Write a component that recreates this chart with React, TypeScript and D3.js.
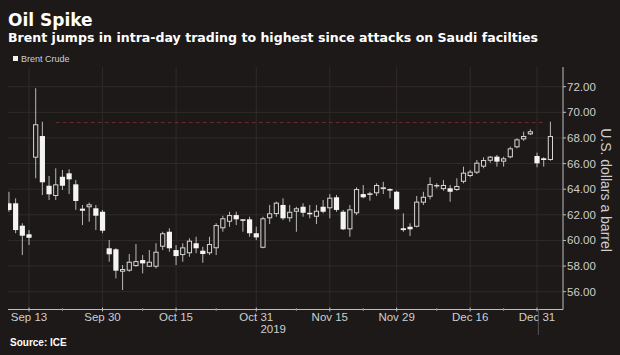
import React from "react";
import * as d3 from "d3";

const dates = [
  "Sep 10","Sep 11","Sep 12","Sep 13","Sep 16","Sep 17","Sep 18","Sep 19","Sep 20","Sep 23",
  "Sep 24","Sep 25","Sep 26","Sep 27","Sep 30","Oct 1","Oct 2","Oct 3","Oct 4","Oct 7",
  "Oct 8","Oct 9","Oct 10","Oct 11","Oct 14","Oct 15","Oct 16","Oct 17","Oct 18","Oct 21",
  "Oct 22","Oct 23","Oct 24","Oct 25","Oct 28","Oct 29","Oct 30","Oct 31","Nov 1","Nov 4",
  "Nov 5","Nov 6","Nov 7","Nov 8","Nov 11","Nov 12","Nov 13","Nov 14","Nov 15","Nov 18",
  "Nov 19","Nov 20","Nov 21","Nov 22","Nov 25","Nov 26","Nov 27","Nov 28","Nov 29","Dec 2",
  "Dec 3","Dec 4","Dec 5","Dec 6","Dec 9","Dec 10","Dec 11","Dec 12","Dec 13","Dec 16",
  "Dec 17","Dec 18","Dec 19","Dec 20","Dec 23","Dec 24","Dec 26","Dec 27","Dec 30","Dec 31",
  "Jan 2","Jan 3"
];

const opens = [62.90, 62.90, 61.15, 60.48, 66.46, 68.15, 64.27, 63.47, 64.97, 65.24,
  64.38, 62.48, 62.59, 62.51, 62.24, 59.39, 59.31, 57.56, 57.64, 58.00,
  58.47, 57.95, 57.95, 59.51, 60.68, 59.25, 58.86, 59.00, 59.78, 59.20,
  59.00, 59.39, 60.95, 61.46, 61.98, 61.65, 61.65, 60.56, 59.43, 61.73,
  62.06, 62.77, 61.73, 62.24, 62.63, 62.16, 61.85, 62.63, 62.51, 63.37,
  62.24, 60.87, 62.12, 63.62, 63.55, 63.68, 64.01, 64.01, 63.80, 60.95,
  61.07, 61.07, 62.95, 63.41, 64.25, 64.01, 64.07, 63.94, 64.58, 65.03,
  65.29, 65.76, 66.22, 66.54, 66.15, 66.49, 67.27, 67.89, 68.28, 66.59,
  66.41, 66.28];

const highs = [63.80, 63.29, 61.34, 60.81, 71.88, 69.27, 65.03, 65.63, 65.50, 65.55,
  64.72, 62.77, 62.95, 62.77, 62.38, 60.03, 59.39, 58.08, 58.94, 59.72,
  58.86, 59.25, 59.78, 60.68, 60.95, 59.64, 59.78, 60.17, 60.29, 59.51,
  60.29, 61.34, 61.93, 62.24, 62.24, 61.67, 61.85, 61.07, 61.85, 62.77,
  63.03, 63.29, 62.77, 62.63, 62.90, 62.77, 62.77, 63.16, 63.62, 63.55,
  62.38, 62.77, 64.15, 64.33, 63.80, 64.46, 64.58, 64.07, 63.88, 62.12,
  61.34, 63.47, 63.80, 64.93, 64.46, 64.72, 64.33, 64.85, 65.76, 65.50,
  66.28, 66.49, 66.59, 66.67, 66.54, 67.32, 67.97, 68.49, 68.67, 66.85,
  66.49, 69.27];

const lows = [62.24, 60.56, 58.86, 59.64, 64.85, 63.55, 63.16, 63.16, 63.94, 63.62,
  62.38, 61.20, 61.46, 60.81, 60.56, 58.34, 57.04, 56.13, 57.56, 57.95,
  57.43, 57.95, 57.82, 59.25, 59.12, 58.08, 58.34, 58.73, 59.00, 58.26,
  58.86, 58.86, 60.68, 61.07, 61.20, 60.68, 60.29, 60.03, 59.39, 61.28,
  61.85, 61.59, 61.46, 60.68, 61.85, 61.73, 61.28, 62.12, 61.73, 62.24,
  60.81, 60.29, 61.98, 63.29, 63.10, 63.47, 63.62, 63.29, 62.38, 60.68,
  60.35, 61.02, 62.77, 63.21, 64.07, 63.88, 63.02, 63.88, 64.46, 64.93,
  65.19, 65.63, 66.07, 65.76, 65.76, 66.41, 67.19, 67.78, 68.23, 65.71,
  65.76, 66.22];

const closes = [62.38, 60.81, 60.37, 60.21, 69.07, 64.54, 63.60, 64.38, 64.27, 64.77,
  63.08, 62.32, 62.82, 61.93, 60.76, 58.92, 57.64, 57.77, 58.34, 58.39,
  58.21, 58.34, 59.12, 60.56, 59.39, 58.78, 59.46, 59.98, 59.39, 58.94,
  59.72, 61.20, 61.73, 61.98, 61.65, 61.54, 60.56, 60.24, 61.73, 62.12,
  62.95, 61.73, 62.24, 62.51, 62.16, 62.04, 62.32, 62.24, 63.34, 62.38,
  60.87, 62.43, 64.01, 63.37, 63.68, 64.33, 64.15, 63.94, 62.43, 60.81,
  60.87, 63.03, 63.41, 64.40, 64.33, 64.33, 63.80, 64.25, 65.29, 65.37,
  66.07, 66.28, 66.54, 66.15, 66.41, 67.19, 67.89, 68.15, 68.52, 66.02,
  66.28, 68.15];

const majorTickDates = ["Sep 13", "Sep 30", "Oct 15", "Oct 31", "Nov 15", "Nov 29", "Dec 16", "Dec 31"];
const minorTickDates = ["Sep 20", "Oct 8", "Oct 23", "Nov 8", "Nov 22", "Dec 9", "Dec 23"];
const yTicks = [56, 58, 60, 62, 64, 66, 68, 70, 72];
const yearLabel = "2019";
const refLevel = 69.2;
const refFrom = "Sep 19";
const refTo = "Jan 2";

const BG = "#1c1918";
const GRID = "#2f2b29";
const TEXT = "#cfcfcf";

export default function App() {
  const W = 620, H = 355;
  const left = 8, right = 563, top = 67, bottom = 309.5;
  const n = dates.length;
  const x = d3.scaleLinear().domain([0, n - 1]).range([8.95, 550.4]);
  const xd = (d: string) => x(dates.indexOf(d));
  const y = d3.scaleLinear().domain([56, 72]).range([291.7, 86.7]);
  const bw = 5.2;
  const yearEnd = (xd("Dec 31") + xd("Jan 2")) / 2 - 2;

  const candles = dates.map((d, i) => ({
    d, i, o: opens[i], h: highs[i], l: lows[i], c: closes[i],
  }));

  return (
    <div style={{ position: "fixed", left: 0, top: 0, width: W, height: H, background: BG }}>
      <svg width={W} height={H} style={{ display: "block" }}>
        <defs>
          <clipPath id="plotClip">
            <rect x={left} y={top} width={right - left} height={bottom - top} />
          </clipPath>
        </defs>
        <rect x={0} y={0} width={W} height={H} fill={BG} />
        <text x={8} y={26} fontFamily="DejaVu Sans" fontWeight="bold" fontSize={17} fill="#ffffff">Oil Spike</text>
        <text x={8} y={42} fontFamily="DejaVu Sans" fontWeight="bold" fontSize={12.5} fill="#ffffff"
          textLength={530} lengthAdjust="spacingAndGlyphs">
          Brent jumps in intra-day trading to highest since attacks on Saudi facilties
        </text>
        <rect x={13} y={56} width={5} height={5} fill="#f2f2f2" />
        <text x={21} y={62} fontFamily="Liberation Sans, Arial" fontSize={9} fill={TEXT}>Brent Crude</text>

        {/* grid */}
        {yTicks.map((t) => (
          <line key={"hg" + t} x1={left} x2={right} y1={y(t)} y2={y(t)} stroke={GRID} strokeWidth={1} />
        ))}
        {majorTickDates.map((d) => (
          <line key={"vg" + d} x1={xd(d)} x2={xd(d)} y1={top} y2={bottom} stroke={GRID} strokeWidth={1} />
        ))}

        {/* reference line */}
        <line x1={xd(refFrom)} x2={xd(refTo)} y1={y(refLevel)} y2={y(refLevel)}
          stroke="#6a2c2a" strokeWidth={1} strokeDasharray="4,3" />

        <g clipPath="url(#plotClip)">
          {candles.map((k) => {
            const cx = x(k.i);
            const up = k.c >= k.o;
            const yTop = y(Math.max(k.o, k.c));
            const yBot = y(Math.min(k.o, k.c));
            const bh = Math.max(1.5, yBot - yTop);
            return (
              <g key={k.d}>
                <line x1={cx} x2={cx} y1={y(k.h)} y2={y(k.l)} stroke="#b9b9b9" strokeWidth={1} />
                {up ? (
                  <rect x={cx - bw / 2 + 0.5} y={yTop + 0.5} width={bw - 1} height={Math.max(0.5, bh - 1)}
                    fill={BG} stroke="#d6d6d6" strokeWidth={1} />
                ) : (
                  <rect x={cx - bw / 2} y={yTop} width={bw} height={bh} fill="#f4f4f4" />
                )}
              </g>
            );
          })}
        </g>

        {/* axes */}
        <line x1={left} x2={right} y1={bottom} y2={bottom} stroke="#bdbdbd" strokeWidth={1} />
        <line x1={right} x2={right} y1={top} y2={bottom} stroke="#bdbdbd" strokeWidth={1} />
        {majorTickDates.map((d) => (
          <g key={"xt" + d}>
            <line x1={xd(d)} x2={xd(d)} y1={bottom - 2} y2={bottom + 2} stroke="#bdbdbd" />
            <text x={xd(d)} y={321} textAnchor="middle" fontFamily="Liberation Sans, Arial" fontSize={11.5} fill={TEXT}>{d}</text>
          </g>
        ))}
        {minorTickDates.map((d) => (
          <line key={"mt" + d} x1={xd(d)} x2={xd(d)} y1={bottom - 1.5} y2={bottom + 1.5} stroke="#8a8a8a" />
        ))}
        <line x1={yearEnd} x2={yearEnd} y1={bottom} y2={335} stroke="#555" strokeWidth={1} />
        <text x={(left + yearEnd) / 2} y={333} textAnchor="middle" fontFamily="Liberation Sans, Arial" fontSize={11.5} fill={TEXT}>{yearLabel}</text>

        {yTicks.map((t) => (
          <g key={"yt" + t}>
            <line x1={right} x2={right + 3} y1={y(t)} y2={y(t)} stroke="#bdbdbd" />
            <text x={567} y={y(t)} dy="0.35em" fontFamily="Liberation Sans, Arial" fontSize={11.5} fill={TEXT}>{t.toFixed(2)}</text>
          </g>
        ))}
        <text transform={`translate(601,190) rotate(90)`} textAnchor="middle" fontFamily="Liberation Sans, Arial"
          fontSize={14} fill={TEXT}>U.S. dollars a barrel</text>

        <text x={10} y={346} fontFamily="Liberation Sans, Arial" fontWeight="bold" fontSize={10} fill="#ffffff">Source: ICE</text>
      </svg>
    </div>
  );
}
